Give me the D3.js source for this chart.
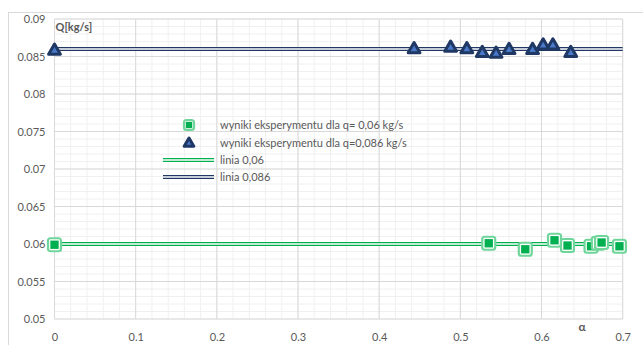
<!DOCTYPE html>
<html>
<head>
<meta charset="utf-8">
<script src="https://cdn.jsdelivr.net/npm/d3@7"></script>
<style>
  body { margin: 0; background: #fff; }
  text { font-family: Lato, "Open Sans", sans-serif; fill: #595959; }
</style>
</head>
<body>
<div id="chart"></div>
<script>
// data
var alpha86 = [0, 0.443, 0.488, 0.508, 0.527, 0.544, 0.560, 0.589, 0.602, 0.614, 0.636];
var q86 = [0.0859, 0.0861, 0.0863, 0.0861, 0.0856, 0.0855, 0.0860, 0.0860, 0.0866, 0.0866, 0.0856];
var alpha06 = [0, 0.535, 0.580, 0.616, 0.632, 0.661, 0.670, 0.674, 0.696];
var q06 = [0.0599, 0.0601, 0.0593, 0.0605, 0.0598, 0.0597, 0.0601, 0.0602, 0.0597];
var refLevels = [0.06, 0.086];
var xTicks = [0, 0.1, 0.2, 0.3, 0.4, 0.5, 0.6, 0.7];
var yTicks = [0.05, 0.055, 0.06, 0.065, 0.07, 0.075, 0.08, 0.085, 0.09];
var legendLabels = ["wyniki eksperymentu dla q= 0,06 kg/s", "wyniki eksperymentu dla q=0,086 kg/s", "linia 0,06", "linia 0,086"];

var svgWidth = 643, svgHeight = 345;
var margin = { top: 19, right: 20, bottom: 26, left: 54.5 };
var width = 622.7 - margin.left;
var height = 319 - margin.top;

var green = "#00b050", navy = "#1f3864";

var svg = d3.select("#chart").append("svg")
  .attr("width", svgWidth)
  .attr("height", svgHeight);

// outer chart border
svg.append("rect")
  .attr("x", 8.5).attr("y", 12.5)
  .attr("width", 660).attr("height", 360)
  .attr("fill", "none").attr("stroke", "#d9d9d9");

var g = svg.append("g").attr("transform", `translate(${margin.left}, ${margin.top})`);

var x = d3.scaleLinear().domain([0, 0.7]).range([0, width]);
var y = d3.scaleLinear().domain([0.05, 0.09]).range([height, 0]);

// minor grid
g.append("g").selectAll("line")
  .data(d3.range(0, 36).map(i => i * 0.02))
  .enter().append("line")
  .attr("x1", d => x(d)).attr("x2", d => x(d))
  .attr("y1", 0).attr("y2", height)
  .attr("stroke", "#f0f0f0");
g.append("g").selectAll("line")
  .data(d3.range(0, 41).map(i => 0.05 + i * 0.001))
  .enter().append("line")
  .attr("x1", 0).attr("x2", width)
  .attr("y1", d => y(d)).attr("y2", d => y(d))
  .attr("stroke", "#f0f0f0");

// major grid
g.append("g").selectAll("line")
  .data(xTicks)
  .enter().append("line")
  .attr("x1", d => x(d)).attr("x2", d => x(d))
  .attr("y1", 0).attr("y2", height)
  .attr("stroke", "#d9d9d9");
g.append("g").selectAll("line")
  .data(yTicks)
  .enter().append("line")
  .attr("x1", 0).attr("x2", width)
  .attr("y1", d => y(d)).attr("y2", d => y(d))
  .attr("stroke", "#d9d9d9");

// axes (labels only)
var bottomAxis = d3.axisBottom(x).tickValues(xTicks).tickSize(0).tickPadding(14)
  .tickFormat(d => +d.toFixed(1));
var leftAxis = d3.axisLeft(y).tickValues(yTicks).tickSize(0).tickPadding(9)
  .tickFormat(d => +d.toFixed(3));

var xa = g.append("g").attr("transform", `translate(0, ${height})`).call(bottomAxis);
var ya = g.append("g").call(leftAxis);
[xa, ya].forEach(function(a) {
  a.select(".domain").remove();
  a.selectAll("text").style("font-size", "11px").attr("fill", "#595959")
    .style("font-family", "Lato, sans-serif");
});

// double reference lines
function doubleLine(sel, x1, x2, yy, col) {
  sel.append("line").attr("x1", x1).attr("x2", x2).attr("y1", yy).attr("y2", yy)
    .attr("stroke", col).attr("stroke-width", 4.2);
  sel.append("line").attr("x1", x1).attr("x2", x2).attr("y1", yy).attr("y2", yy)
    .attr("stroke", "#fff").attr("stroke-width", 1.3);
}
doubleLine(g, x(0), x(0.7), y(refLevels[0]), green);
doubleLine(g, x(0), x(0.7), y(refLevels[1]), navy);

// markers
function squareMark(sel, cx, cy, s) {
  sel.append("rect").attr("x", cx - s / 2).attr("y", cy - s / 2).attr("width", s).attr("height", s)
    .attr("rx", 2.5).attr("fill", "#fff").attr("stroke", "#6fd59a").attr("stroke-width", 2.2);
  sel.append("rect").attr("x", cx - s * 0.32).attr("y", cy - s * 0.32)
    .attr("width", s * 0.64).attr("height", s * 0.64)
    .attr("fill", green);
}
function triMark(sel, cx, cy, area) {
  sel.append("path").attr("d", d3.symbol().type(d3.symbolTriangle).size(area))
    .attr("transform", `translate(${cx}, ${cy + 1})`)
    .attr("fill", "#4a78c8").attr("stroke", navy).attr("stroke-width", 3)
    .attr("stroke-linejoin", "round");
}

var pts06 = alpha06.map((a, i) => ({ a: a, q: q06[i] }));
var pts86 = alpha86.map((a, i) => ({ a: a, q: q86[i] }));
pts06.forEach(d => squareMark(g, x(d.a), y(d.q), 13));
pts86.forEach(d => triMark(g, x(d.a), y(d.q), 60));

// axis titles
g.append("text").attr("x", 1).attr("y", 12)
  .style("font-size", "11px").style("font-weight", "bold").text("Q[kg/s]");
g.append("text").attr("x", x(0.65)).attr("y", height + 12)
  .attr("text-anchor", "middle")
  .style("font-size", "12px").style("font-weight", "bold").text("α");

// legend
var lg = svg.append("g");
var rows = [125, 142.5, 160, 177];
squareMark(lg, 189, rows[0], 10);
triMark(lg, 189, rows[1], 40);
doubleLine(lg, 163, 214, rows[2], green);
doubleLine(lg, 163, 214, rows[3], navy);
lg.selectAll("text.lab")
  .data(legendLabels)
  .enter().append("text")
  .attr("class", "lab")
  .attr("x", 220)
  .attr("y", (d, i) => rows[i] + 4)
  .style("font-size", "11px")
  .text(d => d);
</script>
</body>
</html>
